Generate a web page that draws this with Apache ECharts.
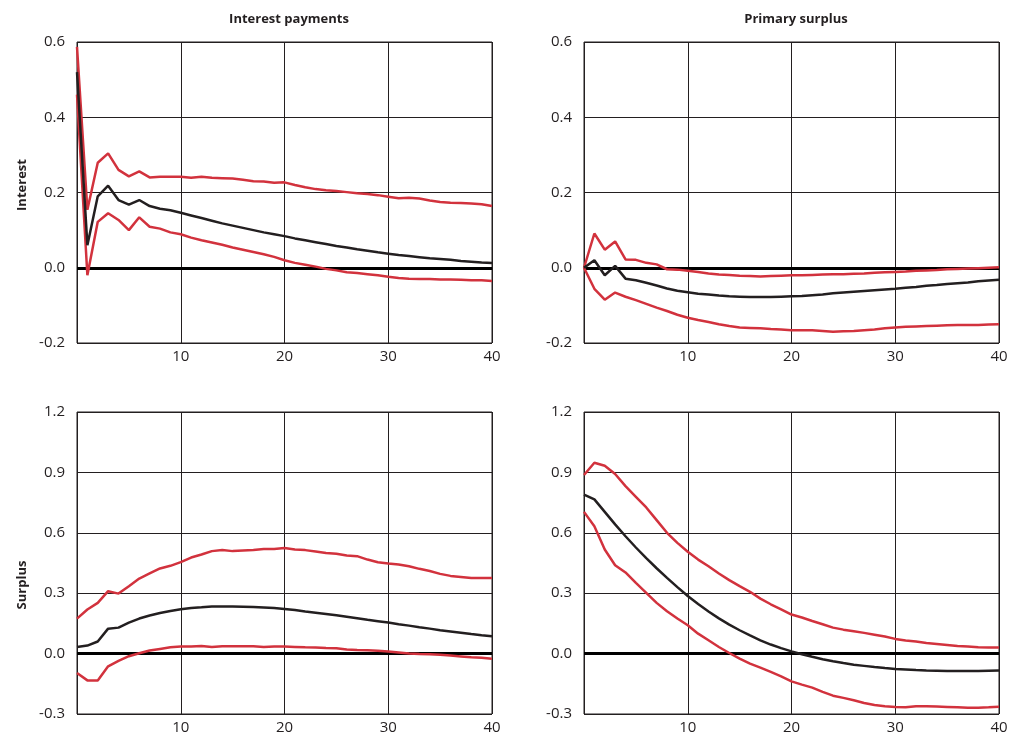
<!DOCTYPE html>
<html>
<head>
<meta charset="utf-8">
<script src="https://cdn.jsdelivr.net/npm/echarts@6/dist/echarts.min.js"></script>
<style>
html,body{margin:0;padding:0;background:#fff;}
#chart{width:1011px;height:740px;}
</style>
</head>
<body>
<div id="chart"></div>
<script>
const periods = [0,1,2,3,4,5,6,7,8,9,10,11,12,13,14,15,16,17,18,19,20,21,22,23,24,25,26,27,28,29,30,31,32,33,34,35,36,37,38,39,40];
const columnTitles = ["Interest payments", "Primary surplus"];
const rowTitles = ["Interest", "Surplus"];
const xTicks = [10, 20, 30, 40];
const topYTicks = [-0.2, 0.0, 0.2, 0.4, 0.6];
const bottomYTicks = [-0.3, 0.0, 0.3, 0.6, 0.9, 1.2];

// Interest response to interest payments shock
const intIntMean  = [0.52,0.06,0.19,0.218,0.18,0.168,0.18,0.164,0.157,0.153,0.146,0.139,0.132,0.125,0.118,0.112,0.106,0.100,0.094,0.089,0.084,0.078,0.073,0.068,0.063,0.058,0.054,0.049,0.045,0.041,0.0375,0.034,0.031,0.028,0.025,0.023,0.021,0.018,0.016,0.014,0.0125];
const intIntUpper = [0.587,0.154,0.279,0.304,0.26,0.243,0.256,0.24,0.242,0.242,0.242,0.239,0.242,0.239,0.238,0.237,0.234,0.23,0.229,0.226,0.227,0.22,0.214,0.209,0.206,0.204,0.201,0.198,0.196,0.193,0.189,0.185,0.186,0.184,0.179,0.175,0.173,0.172,0.171,0.169,0.164];
const intIntLower = [0.46,-0.02,0.122,0.145,0.127,0.1,0.134,0.109,0.104,0.094,0.089,0.08,0.073,0.067,0.061,0.054,0.048,0.042,0.036,0.029,0.02,0.013,0.008,0.003,-0.003,-0.007,-0.012,-0.014,-0.017,-0.02,-0.024,-0.027,-0.029,-0.03,-0.03,-0.031,-0.031,-0.032,-0.033,-0.033,-0.035];

// Interest response to primary surplus shock
const intSurMean  = [0,0.02,-0.02,0.005,-0.029,-0.033,-0.04,-0.047,-0.055,-0.061,-0.065,-0.069,-0.071,-0.074,-0.076,-0.077,-0.078,-0.078,-0.078,-0.077,-0.076,-0.075,-0.073,-0.071,-0.068,-0.066,-0.064,-0.062,-0.06,-0.058,-0.056,-0.053,-0.051,-0.048,-0.046,-0.043,-0.041,-0.039,-0.036,-0.034,-0.032];
const intSurUpper = [0,0.091,0.048,0.07,0.022,0.021,0.013,0.009,-0.004,-0.005,-0.008,-0.011,-0.015,-0.018,-0.019,-0.021,-0.022,-0.023,-0.022,-0.021,-0.02,-0.02,-0.019,-0.018,-0.017,-0.017,-0.016,-0.015,-0.013,-0.012,-0.011,-0.01,-0.008,-0.007,-0.006,-0.004,-0.003,-0.002,-0.001,0.0,0.001];
const intSurLower = [0,-0.056,-0.085,-0.066,-0.077,-0.086,-0.096,-0.106,-0.115,-0.125,-0.133,-0.139,-0.144,-0.15,-0.155,-0.159,-0.16,-0.161,-0.163,-0.164,-0.166,-0.166,-0.166,-0.168,-0.17,-0.169,-0.168,-0.166,-0.164,-0.161,-0.159,-0.157,-0.156,-0.155,-0.154,-0.153,-0.152,-0.152,-0.152,-0.151,-0.15];

// Surplus response to interest payments shock
const surIntMean  = [0.033,0.04,0.06,0.124,0.129,0.154,0.174,0.189,0.202,0.212,0.22,0.227,0.23,0.234,0.234,0.234,0.233,0.231,0.229,0.226,0.222,0.216,0.209,0.203,0.197,0.19,0.183,0.176,0.168,0.161,0.154,0.146,0.139,0.131,0.124,0.116,0.11,0.104,0.097,0.091,0.086];
const surIntUpper = [0.174,0.219,0.252,0.31,0.298,0.335,0.373,0.398,0.423,0.436,0.454,0.477,0.492,0.509,0.514,0.509,0.512,0.515,0.519,0.52,0.524,0.517,0.514,0.507,0.5,0.496,0.487,0.484,0.467,0.454,0.448,0.443,0.434,0.421,0.41,0.396,0.386,0.381,0.375,0.375,0.376];
const surIntLower = [-0.096,-0.133,-0.134,-0.063,-0.036,-0.013,0.002,0.015,0.023,0.031,0.035,0.035,0.038,0.033,0.036,0.036,0.036,0.036,0.033,0.035,0.035,0.033,0.031,0.03,0.028,0.027,0.02,0.018,0.017,0.014,0.01,0.005,0.0,-0.002,-0.003,-0.006,-0.01,-0.014,-0.018,-0.021,-0.025];

// Surplus response to primary surplus shock
const surSurMean  = [0.79,0.766,0.704,0.642,0.583,0.527,0.474,0.424,0.376,0.33,0.286,0.246,0.209,0.175,0.144,0.116,0.09,0.066,0.045,0.027,0.011,-0.003,-0.016,-0.028,-0.038,-0.047,-0.055,-0.061,-0.067,-0.072,-0.076,-0.079,-0.082,-0.084,-0.085,-0.086,-0.086,-0.086,-0.086,-0.085,-0.084];
const surSurUpper = [0.887,0.948,0.933,0.892,0.832,0.779,0.726,0.663,0.6,0.55,0.506,0.467,0.434,0.398,0.365,0.335,0.307,0.273,0.245,0.22,0.194,0.179,0.162,0.146,0.129,0.119,0.111,0.103,0.094,0.085,0.073,0.065,0.06,0.053,0.048,0.043,0.038,0.035,0.031,0.03,0.03];
const surSurLower = [0.704,0.633,0.517,0.439,0.403,0.351,0.302,0.252,0.21,0.174,0.141,0.099,0.066,0.033,0.003,-0.025,-0.05,-0.07,-0.091,-0.113,-0.138,-0.154,-0.169,-0.19,-0.209,-0.22,-0.232,-0.245,-0.255,-0.262,-0.265,-0.267,-0.262,-0.262,-0.263,-0.265,-0.267,-0.269,-0.269,-0.267,-0.264];

const RED = '#d2323d';
const BLACK = '#231f20';
const FONT = '"Open Sans", "Noto Sans", sans-serif';

const panels = [
  {mean: intIntMean, up: intIntUpper, lo: intIntLower, ticks: topYTicks},
  {mean: intSurMean, up: intSurUpper, lo: intSurLower, ticks: topYTicks},
  {mean: surIntMean, up: surIntUpper, lo: surIntLower, ticks: bottomYTicks},
  {mean: surSurMean, up: surSurUpper, lo: surSurLower, ticks: bottomYTicks}
];
const gridPos = [
  {left: 77, top: 42, width: 415, height: 301},
  {left: 584, top: 42, width: 415, height: 301},
  {left: 77, top: 412, width: 415, height: 302},
  {left: 584, top: 412, width: 415, height: 302}
];

const grid = [], xAxis = [], yAxis = [], series = [];
panels.forEach((p, i) => {
  grid.push(Object.assign({show: true, borderColor: BLACK, borderWidth: 1, backgroundColor: '#fff'}, gridPos[i]));
  xAxis.push({
    type: 'value', gridIndex: i, min: 0, max: xTicks[xTicks.length - 1], interval: xTicks[1] - xTicks[0],
    axisLine: {show: false}, axisTick: {show: false},
    axisLabel: {color: BLACK, fontFamily: FONT, fontSize: 15, margin: 6,
      formatter: v => xTicks.indexOf(v) >= 0 ? String(v) : ''},
    splitLine: {show: true, lineStyle: {color: BLACK, width: 1}}
  });
  const t = p.ticks;
  yAxis.push({
    type: 'value', gridIndex: i, min: t[0], max: t[t.length - 1], interval: +(t[1] - t[0]).toFixed(2),
    axisLine: {show: false}, axisTick: {show: false},
    axisLabel: {color: BLACK, fontFamily: FONT, fontSize: 15, margin: 12,
      formatter: v => v.toFixed(1)},
    splitLine: {show: true, lineStyle: {color: BLACK, width: 1}}
  });
  const mk = (arr) => periods.map((x, k) => [x, arr[k]]);
  series.push({type: 'line', xAxisIndex: i, yAxisIndex: i, data: mk(p.up), showSymbol: false,
    lineStyle: {color: RED, width: 2.5}, z: 3, silent: true});
  series.push({type: 'line', xAxisIndex: i, yAxisIndex: i, data: mk(p.lo), showSymbol: false,
    lineStyle: {color: RED, width: 2.5}, z: 3, silent: true});
  series.push({type: 'line', xAxisIndex: i, yAxisIndex: i, data: mk(p.mean), showSymbol: false,
    lineStyle: {color: BLACK, width: 2.5}, z: 4, silent: true,
    markLine: {silent: true, symbol: 'none', label: {show: false},
      lineStyle: {color: '#000', width: 3, type: 'solid'}, data: [{yAxis: 0}], z: 2}});
});

const chart = echarts.init(document.getElementById('chart'), null, {renderer: 'canvas'});
chart.setOption({
  animation: false,
  backgroundColor: '#fff',
  title: [
    {text: columnTitles[0], left: 284, top: 8, textAlign: 'center',
      textStyle: {fontFamily: FONT, fontSize: 13, fontWeight: 'bold', color: BLACK}},
    {text: columnTitles[1], left: 791, top: 8, textAlign: 'center',
      textStyle: {fontFamily: FONT, fontSize: 13, fontWeight: 'bold', color: BLACK}}
  ],
  graphic: [
    {type: 'text', x: 22, y: 185, rotation: Math.PI / 2,
      style: {text: rowTitles[0], font: 'bold 13px ' + FONT, fill: BLACK, textAlign: 'center', textVerticalAlign: 'middle'}},
    {type: 'text', x: 22, y: 585, rotation: Math.PI / 2,
      style: {text: rowTitles[1], font: 'bold 13px ' + FONT, fill: BLACK, textAlign: 'center', textVerticalAlign: 'middle'}}
  ],
  grid, xAxis, yAxis, series
});
</script>
</body>
</html>
